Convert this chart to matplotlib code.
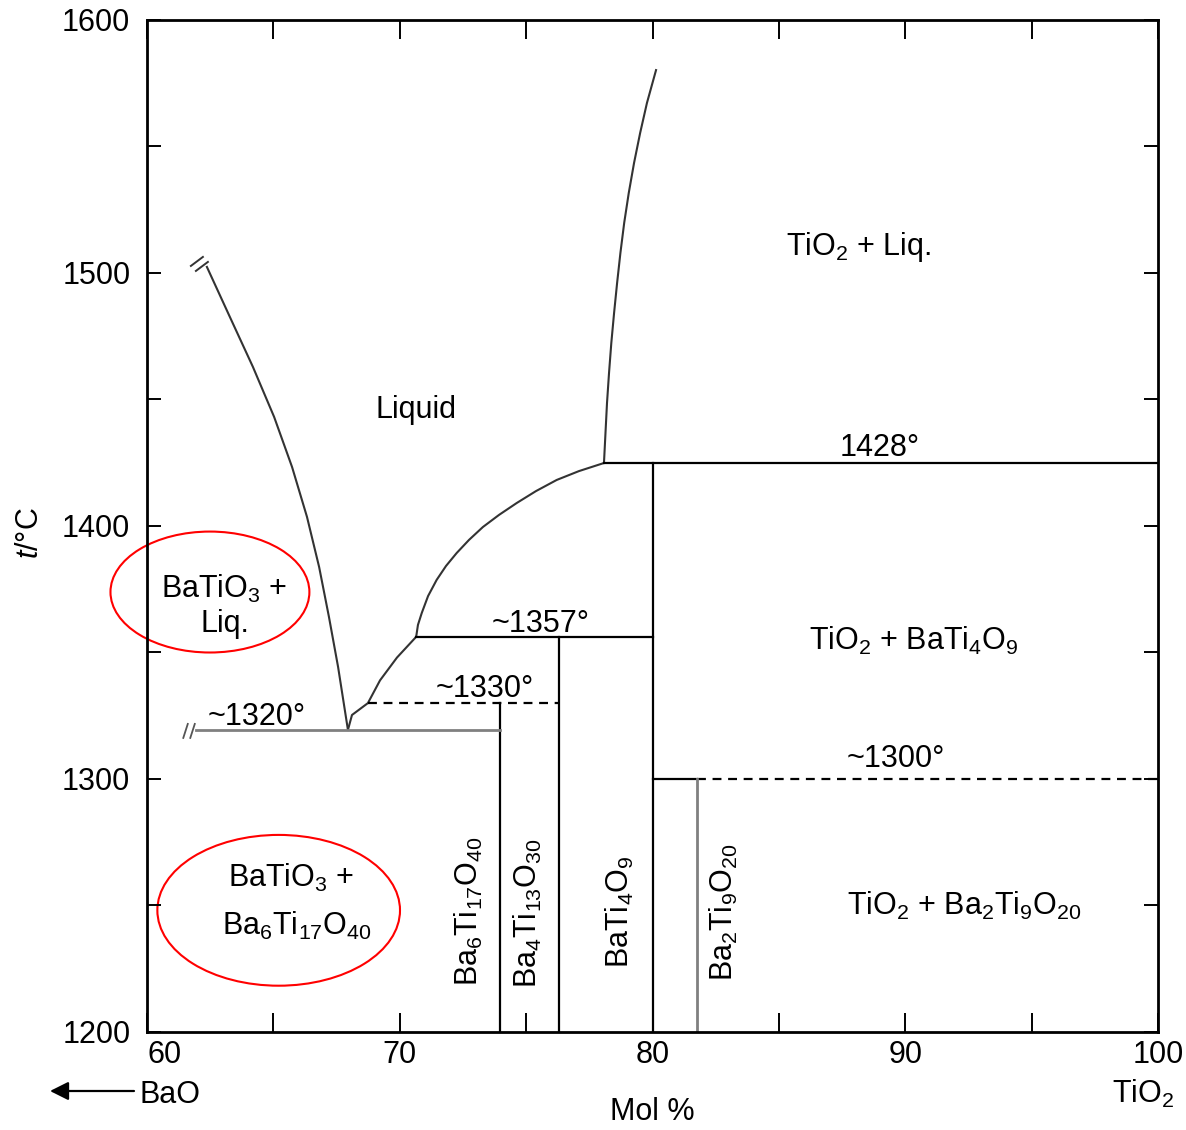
import numpy as np
import matplotlib
matplotlib.use("Agg")
import matplotlib.pyplot as plt
from matplotlib.patches import Ellipse

plt.rcParams['font.family'] = ['Liberation Sans', 'DejaVu Sans']
plt.rcParams['mathtext.fontset'] = 'custom'
plt.rcParams['mathtext.rm'] = 'Liberation Sans'
plt.rcParams['mathtext.it'] = 'Liberation Sans:italic'
plt.rcParams['mathtext.default'] = 'regular'

# liquidus curves (mol % TiO2, t in degC)
batio3_liq_x = [62.37, 63.28, 64.19, 65.03, 65.74, 66.33, 66.81, 67.20, 67.56, 67.87, 67.95]
batio3_liq_t = [1502.4, 1482.6, 1462.9, 1443.1, 1423.3, 1403.6, 1383.8, 1364.0, 1344.3, 1324.5, 1319.4]

low_liq_x = [67.95, 68.11, 68.74, 69.22, 69.89, 70.65]
low_liq_t = [1319.4, 1325.3, 1330.0, 1339.0, 1348.0, 1356.2]

mid_liq_x = [70.65, 70.72, 70.87, 71.12, 71.46, 71.83, 72.25, 72.74, 73.29,
             73.93, 74.63, 75.39, 76.21, 77.09, 78.08]
mid_liq_t = [1356.2, 1360.9, 1365.6, 1372.3, 1378.7, 1384.2, 1389.3, 1394.5, 1399.6,
             1404.4, 1409.1, 1413.8, 1418.2, 1421.7, 1424.9]

tio2_liq_x = [78.08, 78.14, 78.20, 78.28, 78.37, 78.48, 78.60, 78.73, 78.88,
              79.06, 79.27, 79.51, 79.78, 80.14]
tio2_liq_t = [1424.9, 1436.8, 1448.6, 1460.5, 1472.3, 1484.2, 1496.1, 1507.9, 1519.8,
              1531.6, 1543.5, 1555.3, 1567.2, 1580.2]

# compound compositions (mol % TiO2)
x_ba6 = 73.95
x_ba4 = 76.3
x_bati4 = 80.0
x_ba2 = 81.75

# invariant temperatures (as drawn)
t_1428 = 1424.9
t_1357 = 1356.2
t_1330 = 1330.0
t_1320 = 1319.4
t_1300 = 1300.0
x_1320_start = 61.95
x_1330_start = 68.74

x_ticks = [60, 65, 70, 75, 80, 85, 90, 95, 100]
x_tick_labels = ['60', '', '70', '', '80', '', '90', '', '100']
y_ticks = [1200, 1250, 1300, 1350, 1400, 1450, 1500, 1550, 1600]
y_tick_labels = ['1200', '', '1300', '', '1400', '', '1500', '', '1600']

fig = plt.figure(figsize=(11.86, 11.3), dpi=100)
ax = fig.add_axes([147/1186, 1-1032/1130, 1011/1186, 1012/1130])
ax.set_xlim(60, 100)
ax.set_ylim(1200, 1600)

curve = dict(color='#333333', lw=1.5)
ax.plot(batio3_liq_x, batio3_liq_t, **curve)
ax.plot(low_liq_x, low_liq_t, **curve)
ax.plot(mid_liq_x, mid_liq_t, **curve)
ax.plot(tio2_liq_x, tio2_liq_t, **curve)

solid = dict(color='black', lw=1.6)
ax.plot([tio2_liq_x[0], 100], [t_1428, t_1428], **solid)
ax.plot([x_bati4, x_bati4], [1200, t_1428], **solid)
ax.plot([mid_liq_x[0], x_bati4], [t_1357, t_1357], **solid)
ax.plot([x_ba4, x_ba4], [1200, t_1357], **solid)
ax.plot([x_ba6, x_ba6], [1200, t_1330], **solid)
ax.plot([x_bati4, x_ba2], [t_1300, t_1300], **solid)
ax.plot([x_1330_start, x_ba4], [t_1330, t_1330], color='black', lw=1.6, ls=(0, (4, 3)))
ax.plot([x_ba2, 100], [t_1300, t_1300], color='black', lw=1.6, ls=(0, (4, 3)))

gray = dict(color='#808080', lw=2.0)
ax.plot([x_1320_start, x_ba6], [t_1320, t_1320], **gray)
ax.plot([x_ba2, x_ba2], [1200, t_1300], **gray)

# break marks
dxp = 40 / 1011  # data per px in x
dyp = 400 / 1012
for off in (0, 7):
    x0 = x_1320_start - 13 * dxp + off * dxp
    ax.plot([x0, x0 + 4.5 * dxp], [t_1320 - 8 * dyp, t_1320 + 6 * dyp], color='#555555', lw=1.3)
for off in (0, 5):
    xs = batio3_liq_x[0] - 16 * dxp + off * dxp
    ys = batio3_liq_t[0] + 1 * dyp - off * dyp
    ax.plot([xs, xs + 12 * dxp], [ys, ys + 9 * dyp], color='#333333', lw=1.4)

# red ellipses
ax.add_patch(Ellipse((62.49, 1373.9), 7.87, 47.8, fill=False, ec='red', lw=1.5, clip_on=False))
ax.add_patch(Ellipse((65.21, 1248.1), 9.6, 59.6, fill=False, ec='red', lw=1.5, clip_on=False))

fs = 22
ax.text(70.64, 1442.5, 'Liquid', fontsize=fs, ha='center', va='baseline')
ax.text(88.17, 1507.1, 'TiO$_2$ + Liq.', fontsize=fs, ha='center', va='baseline')
ax.text(89.0, 1427.7, '1428°', fontsize=fs, ha='center', va='baseline')
ax.text(75.59, 1358.2, '~1357°', fontsize=fs, ha='center', va='baseline')
ax.text(73.37, 1332.5, '~1330°', fontsize=fs, ha='center', va='baseline')
ax.text(64.35, 1321.3, '~1320°', fontsize=fs, ha='center', va='baseline')
ax.text(89.63, 1304.9, '~1300°', fontsize=fs, ha='center', va='baseline')
ax.text(90.35, 1351.0, 'TiO$_2$ + BaTi$_4$O$_9$', fontsize=fs, ha='center', va='baseline')
ax.text(92.32, 1246.2, 'TiO$_2$ + Ba$_2$Ti$_9$O$_{20}$', fontsize=fs, ha='center', va='baseline')
ax.text(63.07, 1371.5, 'BaTiO$_3$ +', fontsize=fs, ha='center', va='baseline')
ax.text(63.09, 1358.2, 'Liq.', fontsize=fs, ha='center', va='baseline')
ax.text(65.72, 1257.4, 'BaTiO$_3$ +', fontsize=fs, ha='center', va='baseline')
ax.text(65.92, 1238.3, 'Ba$_6$Ti$_{17}$O$_{40}$', fontsize=fs, ha='center', va='baseline')

ax.text(72.72, 1247.7, 'Ba$_6$Ti$_{17}$O$_{40}$', fontsize=fs, rotation=90, ha='center', va='center')
ax.text(75.07, 1247.0, 'Ba$_4$Ti$_{13}$O$_{30}$', fontsize=fs, rotation=90, ha='center', va='center')
ax.text(78.71, 1247.4, 'BaTi$_4$O$_9$', fontsize=fs, rotation=90, ha='center', va='center')
ax.text(82.83, 1247.4, 'Ba$_2$Ti$_9$O$_{20}$', fontsize=fs, rotation=90, ha='center', va='center')

ax.set_xticks(x_ticks)
ax.set_xticklabels(x_tick_labels, fontsize=fs)
ax.set_yticks(y_ticks)
ax.set_yticklabels(y_tick_labels, fontsize=fs)
ax.tick_params(direction='in', top=True, right=True, width=1.4)
ax.tick_params(axis='x', length=14, pad=6)
ax.tick_params(axis='y', length=10, pad=12)
ax.get_xticklabels()[0].set_ha('left')
for s in ax.spines.values():
    s.set_linewidth(2.0)

fig.text(29.5/1186, 1-533/1130, r'$\mathit{t}$/°C', fontsize=fs, rotation=90, ha='center', va='center')
fig.text(652/1186, 1-1112/1130, 'Mol %', fontsize=fs, ha='center', va='center')
fig.text(140/1186, 1-1103/1130, 'BaO', fontsize=fs, ha='left', va='baseline')
fig.text(1143/1186, 1-1103/1130, 'TiO$_2$', fontsize=fs, ha='center', va='baseline')
ax.annotate('', xy=(50/1186, 1-1091/1130), xytext=(134/1186, 1-1091/1130),
            xycoords='figure fraction', textcoords='figure fraction',
            arrowprops=dict(arrowstyle='-|>', color='black', lw=1.6, mutation_scale=28,
                            shrinkA=0, shrinkB=0))

fig.savefig('out.png', dpi=100)
